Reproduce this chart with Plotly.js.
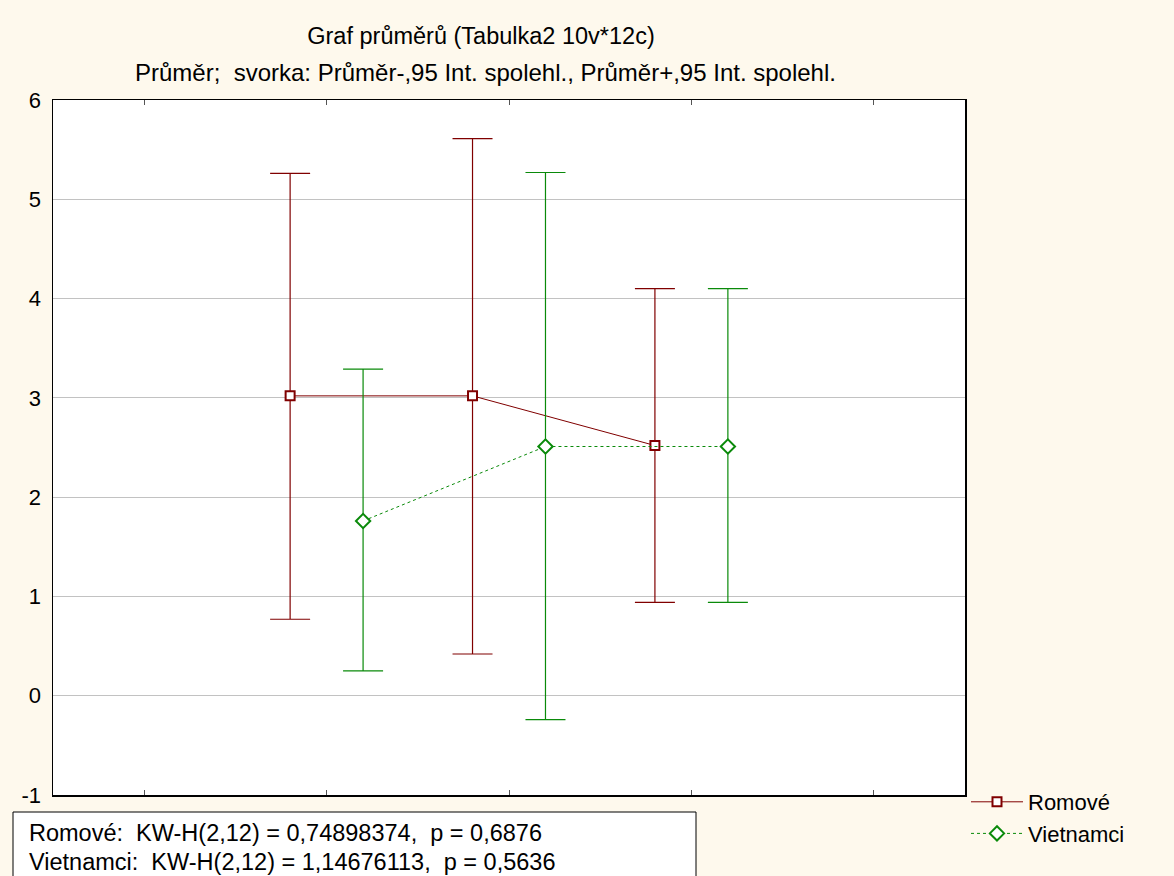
<!DOCTYPE html>
<html>
<head>
<meta charset="utf-8">
<script src="https://cdn.plot.ly/plotly-3.0.1.min.js"></script>
<style>html,body{margin:0;padding:0;background:#FEF9ED;}#chart{width:1174px;height:876px;}</style>
</head>
<body>
<div id="chart"></div>
<script>
// Data
const categories = [1, 2, 3];
const groupNames = ['Romové', 'Vietnamci'];
const romoveMean  = [3.02, 3.02, 2.52];
const romoveUpper = [5.26, 5.61, 4.10];
const romoveLower = [0.77, 0.42, 0.94];
const vietMean  = [1.76, 2.51, 2.51];
const vietUpper = [3.29, 5.27, 4.10];
const vietLower = [0.25, -0.24, 0.94];
const yTicks = [-1, 0, 1, 2, 3, 4, 5, 6];
const yTickLabels = ['-1', '0', '1', '2', '3', '4', '5', '6'];
const xTicks = [0, 1, 2, 3, 4];
const statLines = [
  'Romové:  KW-H(2,12) = 0,74898374,  p = 0,6876',
  'Vietnamci:  KW-H(2,12) = 1,14676113,  p = 0,5636'
];
const titleText = 'Graf průměrů (Tabulka2 10v*12c)';
const subtitleText = 'Průměr;  svorka: Průměr-,95 Int. spolehl., Průměr+,95 Int. spolehl.';

const offset = 0.2;
const red = '#800000', green = '#0A8A0A';
const FONT = 'Liberation Sans, Arial, sans-serif';

function series(name, mean, up, lo, dx, color, dash, symbol, size) {
  return {
    type: 'scatter', mode: 'lines+markers', name: name,
    x: categories.map(c => c + dx), y: mean,
    line: {color: color, width: 1, dash: dash},
    marker: {symbol: symbol, size: size, color: '#ffffff', line: {color: color, width: 2}},
    error_y: {type: 'data', symmetric: false,
      array: up.map((u, i) => u - mean[i]),
      arrayminus: lo.map((l, i) => mean[i] - l),
      color: color, thickness: 1.2, width: 20}
  };
}

const data = [
  series(groupNames[0], romoveMean, romoveUpper, romoveLower, -offset, red, 'solid', 'square', 9),
  series(groupNames[1], vietMean, vietUpper, vietLower, offset, green, 'dot', 'diamond', 11)
];

const L = 53, R = 965, T = 100, B = 795, W = 1174, H = 876;
const px = v => (v - L) / (R - L);
const py = v => (B - v) / (B - T);

const layout = {
  width: W, height: H,
  paper_bgcolor: '#FEF9ED', plot_bgcolor: '#FFFFFF',
  margin: {l: L, r: W - R, t: T, b: H - B, pad: 0},
  font: {family: FONT, color: '#000', size: 18},
  showlegend: true,
  title: {text: titleText, font: {family: FONT, size: 23.5, color: '#000'},
    xref: 'paper', x: px(481), xanchor: 'center', yref: 'container', y: 1 - 36 / H, yanchor: 'middle'},
  xaxis: {range: [-0.5, 4.5], tickvals: xTicks, showticklabels: false, ticks: 'inside', ticklen: 5,
    tickcolor: '#555', mirror: 'ticks', showline: true, linecolor: '#000', linewidth: 1.5,
    showgrid: false, zeroline: false, fixedrange: true},
  yaxis: {range: [-1, 6], tickvals: yTicks, ticktext: yTickLabels, ticks: '', showline: true, linecolor: '#000', linewidth: 1.5,
    mirror: true, gridcolor: '#C2C2C2', gridwidth: 1, zeroline: false, ticklabelstandoff: 6,
    tickfont: {family: FONT, size: 22, color: '#000'}, fixedrange: true},
  legend: {x: px(966), xanchor: 'left', y: py(781), yanchor: 'top', bgcolor: 'rgba(0,0,0,0)',
    font: {family: FONT, size: 22, color: '#000'}, tracegroupgap: 0, itemwidth: 52},
  annotations: [
    {text: subtitleText, xref: 'paper', yref: 'paper', x: px(485), y: py(72), xanchor: 'center', yanchor: 'middle',
      showarrow: false, font: {family: FONT, size: 24, color: '#000'}},
    {text: statLines[0], xref: 'paper', yref: 'paper', x: px(27), y: py(833), xanchor: 'left', yanchor: 'middle',
      showarrow: false, font: {family: FONT, size: 23.5, color: '#000'}},
    {text: statLines[1], xref: 'paper', yref: 'paper', x: px(27), y: py(862), xanchor: 'left', yanchor: 'middle',
      showarrow: false, font: {family: FONT, size: 23.5, color: '#000'}}
  ],
  shapes: [
    {type: 'rect', xref: 'paper', yref: 'paper', x0: px(13), x1: px(696), y0: py(812), y1: py(890),
      fillcolor: '#FFFFFF', line: {color: '#000', width: 1}, layer: 'above'}
  ]
};

Plotly.newPlot('chart', data, layout, {displayModeBar: false, staticPlot: true});
</script>
</body>
</html>
